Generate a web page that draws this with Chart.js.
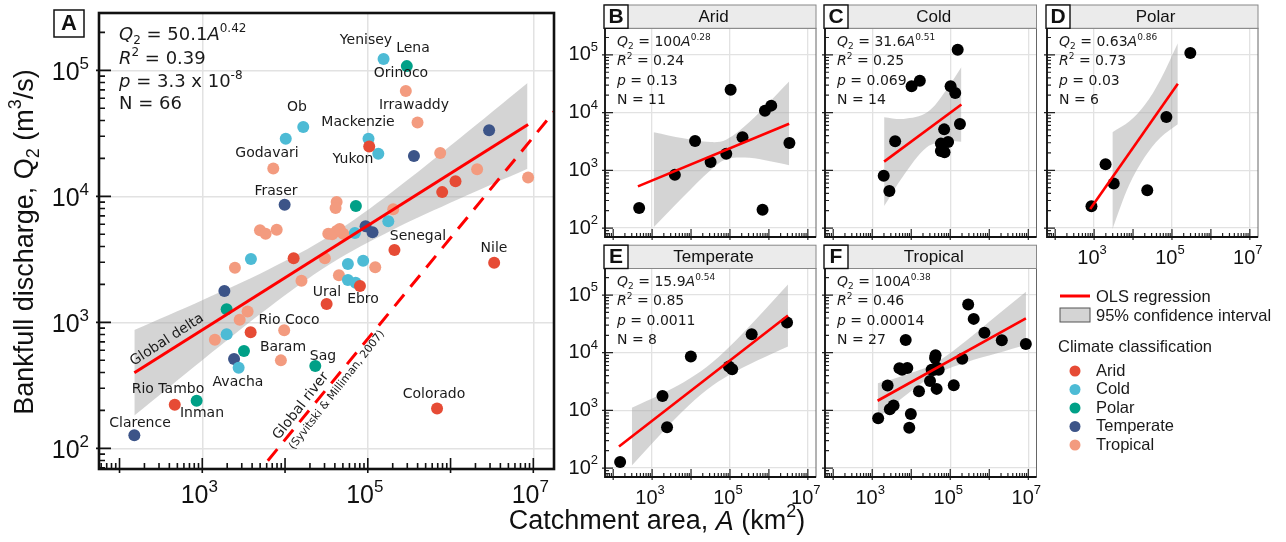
<!DOCTYPE html>
<html>
<head>
<meta charset="utf-8">
<script src="https://cdn.jsdelivr.net/npm/chart.js@4.4.1/dist/chart.umd.min.js"></script>
<style>
  body { margin: 0; background: #fff; }
  #wrap { position: relative; width: 1286px; height: 542px; }
  #wrap canvas { position: absolute; left: 0; top: 0; }
</style>
</head>
<body>
<div id="wrap">
  <canvas id="pA" width="1286" height="542"></canvas>
  <canvas id="pB" width="1286" height="542"></canvas>
  <canvas id="pC" width="1286" height="542"></canvas>
  <canvas id="pD" width="1286" height="542"></canvas>
  <canvas id="pE" width="1286" height="542"></canvas>
  <canvas id="pF" width="1286" height="542"></canvas>
</div>
<script>
// ---------- data ----------
const classNames = ['Arid', 'Cold', 'Polar', 'Temperate', 'Tropical'];
const classColors = ['#E64B35', '#4DBBD5', '#00A087', '#3C5488', '#F39B7F'];

// catchment area A (km2) and bankfull discharge Q2 (m3/s), one pair per river
const aridA = [104000, 1148000, 792000, 12700, 3840, 465, 31800, 210000, 3365000, 80400, 687000];
const aridQ = [24900, 13200, 10800, 3220, 834, 222, 1400, 3750, 2970, 1940, 207];
const coldA = [16600, 10200, 155000, 102000, 134000, 177000, 69800, 3870, 1970, 2750, 57500, 87900, 57500, 71300];
const coldQ = [35500, 28600, 123000, 28600, 21800, 6340, 5120, 3180, 804, 437, 2900, 3080, 2170, 2060];
const polarA = [296000, 71800, 1970, 3190, 23200, 855];
const polarQ = [108000, 8380, 1270, 592, 450, 239];
const temperateA = [9890, 361000, 2924000, 94000, 114000, 1850, 2420, 151];
const temperateQ = [8570, 20900, 33400, 5780, 5180, 1770, 512, 127];
const tropicalA = [7210, 4980, 5830, 7930, 33300, 42000, 50500, 288000, 399000, 750000, 2094000, 8650000,
  42000, 40800, 203000, 2480, 30300, 15800, 3530, 2830, 1420, 9770, 8910, 123000, 44800, 37200, 45700];
const tropicalQ = [16600, 5370, 5050, 5430, 5050, 5310, 5050, 68500, 38600, 22100, 16400, 14100,
  9020, 8070, 7890, 2710, 3220, 2140, 1220, 1050, 728, 865, 499, 2740, 2360, 5010, 5500];

// OLS fit lines and 95% confidence bands
const allFitA = [151, 8650000];
const allFitQ = [398, 37150];
const allBandA = [151, 1000, 6310, 35500, 200000, 1259000, 8510000];
const allBandHi = [871, 1500, 2630, 4910, 10940, 28500, 79250];
const allBandLo = [182, 501, 1306, 2917, 5430, 9530, 16560];
const globalRiverA = [3981, 31620000];
const globalRiverQ = [56, 74300];

const aridFitA = [432, 3311000];
const aridFitQ = [527, 6400];
const aridBandA = [1096, 6310, 31620, 79430, 316200, 1000000, 3311000];
const aridBandHi = [4581, 3597, 3083, 3373, 6887, 14960, 34510];
const aridBandLo = [103, 348, 1007, 1542, 1644, 1449, 1230];

const coldFitA = [2018, 192800];
const coldFitQ = [1416, 13840];
const coldBandA = [2018, 6310, 25120, 79430, 192800];
const coldBandHi = [8337, 7762, 10000, 24600, 61380];
const coldBandLo = [240, 809, 2512, 3228, 3119];

const polarFitA = [794, 141250];
const polarFitQ = [214, 31620];
const polarBandA = [2951, 7943, 19950, 50120, 141250];
const polarBandHi = [4571, 6982, 13490, 36810, 158500];
const polarBandLo = [95.5, 555, 1698, 3681, 6310];

const temperateFitA = [141, 3090000];
const temperateFitQ = [237, 44060];
const temperateBandA = [302, 1585, 6310, 25120, 100000, 501200, 3090000];
const temperateBandHi = [1114, 1875, 3048, 5649, 12940, 39900, 152100];
const temperateBandLo = [111, 376, 982, 2249, 4169, 7295, 12820];

const tropicalFitA = [1374, 8670000];
const tropicalFitQ = [1469, 39540];
const tropicalBandA = [1380, 6310, 39810, 251200, 1585000, 8710000];
const tropicalBandHi = [2958, 4000, 6561, 16000, 44460, 113500];
const tropicalBandLo = [733, 1698, 4140, 6792, 9772, 13770];

// regression statistics per climate class
const statCoef = ['100', '31.6', '0.63', '15.9', '100'];
const statExp = ['0.28', '0.51', '0.86', '0.54', '0.38'];
const statR2 = ['0.24', '0.25', '0.73', '0.85', '0.46'];
const statP = ['0.13', '0.069', '0.03', '0.0011', '0.00014'];
const statN = ['11', '14', '6', '8', '27'];

// axis ticks
const xTickVals = [1e3, 1e5, 1e7];
const yTickVals = [1e2, 1e3, 1e4, 1e5];

// river names shown in panel A (text position on page)
const riverLabels = [
  ['Yenisey', 366, 40], ['Lena', 413, 48], ['Orinoco', 401, 73], ['Irrawaddy', 414, 105],
  ['Ob', 297, 107], ['Mackenzie', 358, 122], ['Godavari', 267, 153], ['Yukon', 353, 159],
  ['Fraser', 276, 191], ['Senegal', 418, 236], ['Nile', 494, 248], ['Ural', 327, 292],
  ['Ebro', 363, 299], ['Rio Coco', 289, 320], ['Baram', 283, 347], ['Sag', 323, 356],
  ['Avacha', 238, 382], ['Rio Tambo', 168, 389], ['Colorado', 434, 394], ['Inman', 202, 413],
  ['Clarence', 140, 423]
];

// ---------- grouping ----------
const classA = [aridA, coldA, polarA, temperateA, tropicalA];
const classQ = [aridQ, coldQ, polarQ, temperateQ, tropicalQ];
const classFitA = [aridFitA, coldFitA, polarFitA, temperateFitA, tropicalFitA];
const classFitQ = [aridFitQ, coldFitQ, polarFitQ, temperateFitQ, tropicalFitQ];
const classBandA = [aridBandA, coldBandA, polarBandA, temperateBandA, tropicalBandA];
const classBandHi = [aridBandHi, coldBandHi, polarBandHi, temperateBandHi, tropicalBandHi];
const classBandLo = [aridBandLo, coldBandLo, polarBandLo, temperateBandLo, tropicalBandLo];

const W = 1286, H = 542;
const BAND_FILL = 'rgba(165,165,165,0.48)';
const SANS = 'Liberation Sans, Arial, sans-serif';
const DEJA = 'DejaVu Sans, Verdana, sans-serif';

function pts(xs, ys) {
  return xs.map((x, i) => ({ x: x, y: ys[i] }));
}

// text with italic / sub / sup pieces
function drawRich(ctx, parts, x, y, size, family, align) {
  const fontFor = (st, fs) => (st.includes('i') ? 'italic ' : '') + fs + 'px ' + family;
  const items = parts.map(([t, st]) => {
    const small = st.includes('sub') || st.includes('sup');
    const fs = small ? Math.round(size * 0.66) : size;
    ctx.font = fontFor(st, fs);
    return { t: t, st: st, fs: fs, w: ctx.measureText(t).width };
  });
  const total = items.reduce((s, it) => s + it.w, 0);
  let cx = align === 'center' ? x - total / 2 : (align === 'right' ? x - total : x);
  ctx.textAlign = 'left';
  ctx.textBaseline = 'middle';
  items.forEach(it => {
    let dy = 0;
    if (it.st.includes('sub')) dy = size * 0.3;
    if (it.st.includes('sup')) dy = -size * 0.36;
    ctx.font = fontFor(it.st, it.fs);
    ctx.fillText(it.t, cx, y + dy);
    cx += it.w;
  });
  return total;
}

function expOf(v) {
  return String(Math.round(Math.log10(v)));
}

// inward log ticks along bottom (horizontal) or left axis
function drawLogTicks(ctx, scale, area, horizontal, majorLen, minorLen, outLen) {
  const lo = Math.floor(Math.log10(scale.min));
  const hi = Math.ceil(Math.log10(scale.max));
  ctx.beginPath();
  for (let d = lo; d <= hi; d++) {
    for (let k = 1; k <= 9; k++) {
      const v = k * Math.pow(10, d);
      if (v < scale.min || v > scale.max) continue;
      const p = scale.getPixelForValue(v);
      const len = k === 1 ? majorLen : minorLen;
      const out = k === 1 ? outLen : 0;
      if (horizontal) {
        ctx.moveTo(p, area.bottom + out);
        ctx.lineTo(p, area.bottom - len);
      } else {
        ctx.moveTo(area.left - out, p);
        ctx.lineTo(area.left + len, p);
      }
    }
  }
  ctx.stroke();
}

function makeChart(id, area, xRange, yRange, datasets, grid, plugin) {
  return new Chart(document.getElementById(id), {
    type: 'scatter',
    data: { datasets: datasets },
    options: {
      responsive: false,
      animation: false,
      devicePixelRatio: 1,
      layout: { padding: { left: area[0], top: area[1], right: W - area[2], bottom: H - area[3] } },
      plugins: { legend: { display: false }, tooltip: { enabled: false } },
      scales: {
        x: {
          type: 'logarithmic', min: xRange[0], max: xRange[1], bounds: 'data',
          ticks: { display: false },
          grid: { color: grid.color, lineWidth: grid.width, drawTicks: false },
          border: { display: false },
          afterBuildTicks: s => { s.ticks = xTickVals.map(v => ({ value: v })); },
          afterFit: s => { s.height = 0; }
        },
        y: {
          type: 'logarithmic', min: yRange[0], max: yRange[1], bounds: 'data',
          ticks: { display: false },
          grid: { color: grid.color, lineWidth: grid.width, drawTicks: false },
          border: { display: false },
          afterBuildTicks: s => { s.ticks = yTickVals.map(v => ({ value: v })); },
          afterFit: s => { s.width = 0; }
        }
      }
    },
    plugins: [plugin]
  });
}

function bandSets(xs, hi, lo) {
  return [
    { data: pts(xs, hi), showLine: true, pointRadius: 0, borderWidth: 0, borderColor: 'rgba(0,0,0,0)',
      tension: 0.35, fill: '+1', backgroundColor: BAND_FILL, order: 3 },
    { data: pts(xs, lo), showLine: true, pointRadius: 0, borderWidth: 0, borderColor: 'rgba(0,0,0,0)',
      tension: 0.35, fill: false, order: 3 }
  ];
}

// ---------- panel A ----------
const areaA = [99, 13, 554, 469];
const xRangeA = [Math.pow(10, 1.752), Math.pow(10, 7.25)];
const yRangeA = [Math.pow(10, 1.836), Math.pow(10, 5.455)];

const datasetsA = bandSets(allBandA, allBandHi, allBandLo);
classNames.forEach((name, i) => {
  datasetsA.push({ label: name, data: pts(classA[i], classQ[i]), pointRadius: 6, pointBorderWidth: 0,
    backgroundColor: classColors[i], order: 2 });
});
datasetsA.push({ data: pts(allFitA, allFitQ), showLine: true, pointRadius: 0, borderColor: '#ff0000',
  borderWidth: 3, order: 1 });
datasetsA.push({ data: pts(globalRiverA, globalRiverQ), showLine: true, pointRadius: 0, borderColor: '#ff0000',
  borderWidth: 3, borderDash: [15, 10], order: 1 });

const plugA = {
  id: 'decoA',
  afterDraw(chart) {
    const ctx = chart.ctx, a = chart.chartArea, xs = chart.scales.x, ys = chart.scales.y;
    ctx.save();
    ctx.strokeStyle = '#111';
    ctx.lineWidth = 1.6;
    drawLogTicks(ctx, xs, a, true, 11, 6, 4);
    drawLogTicks(ctx, ys, a, false, 12, 6, 3);
    ctx.lineWidth = 2.6;
    ctx.strokeRect(a.left, a.top, a.right - a.left, a.bottom - a.top);

    ctx.fillStyle = '#111';
    yTickVals.forEach(v => {
      drawRich(ctx, [['10', ''], [expOf(v), 'sup']], 89, ys.getPixelForValue(v) + 3, 25, SANS, 'right');
    });
    xTickVals.forEach(v => {
      drawRich(ctx, [['10', ''], [expOf(v), 'sup']], xs.getPixelForValue(v) - 3, 496, 25, SANS, 'center');
    });

    // statistics
    ctx.fillStyle = '#1a1a1a';
    const sx = 119;
    drawRich(ctx, [['Q', 'i'], ['2', 'sub'], [' = 50.1', ''], ['A', 'i'], ['0.42', 'sup']], sx, 35, 18, DEJA, 'left');
    drawRich(ctx, [['R', 'i'], ['2', 'sup'], [' = 0.39', '']], sx, 59, 18, DEJA, 'left');
    drawRich(ctx, [['p', 'i'], [' = 3.3 x 10', ''], ['-8', 'sup']], sx, 82, 18, DEJA, 'left');
    drawRich(ctx, [['N = 66', '']], sx, 104, 18, DEJA, 'left');

    // river names
    ctx.font = '14px ' + DEJA;
    ctx.textAlign = 'center';
    ctx.textBaseline = 'middle';
    riverLabels.forEach(([t, x, y]) => ctx.fillText(t, x, y));

    ctx.save();
    ctx.translate(167, 340);
    ctx.rotate(-33 * Math.PI / 180);
    ctx.fillText('Global delta', 0, 0);
    ctx.restore();

    ctx.save();
    ctx.translate(301, 406);
    ctx.rotate(-52 * Math.PI / 180);
    ctx.fillText('Global river', 0, 0);
    ctx.restore();

    ctx.save();
    ctx.translate(337, 390);
    ctx.rotate(-52 * Math.PI / 180);
    ctx.font = '11px ' + DEJA;
    ctx.fillText('(Syvitski & Milliman, 2007)', 0, 0);
    ctx.restore();

    // letter box
    ctx.fillStyle = '#fff';
    ctx.fillRect(54, 10, 30, 27);
    ctx.lineWidth = 1.5;
    ctx.strokeStyle = '#111';
    ctx.strokeRect(54, 10, 30, 27);
    ctx.fillStyle = '#111';
    ctx.font = 'bold 22px ' + SANS;
    ctx.textAlign = 'center';
    ctx.fillText('A', 69, 24);

    // axis titles
    ctx.fillStyle = '#111';
    drawRich(ctx, [['Catchment area, ', ''], ['A', 'i'], [' (km', ''], ['2', 'sup'], [')', '']], 657, 522, 27, SANS, 'center');
    ctx.save();
    ctx.translate(26, 242);
    ctx.rotate(-Math.PI / 2);
    drawRich(ctx, [['Bankfull discharge, Q', ''], ['2', 'sub'], [' (m', ''], ['3', 'sup'], ['/s)', '']], 0, 0, 27, SANS, 'center');
    ctx.restore();
    ctx.restore();
  }
};
makeChart('pA', areaA, xRangeA, yRangeA, datasetsA, { color: '#e2e2e2', width: 1.5 }, plugA);

// ---------- small panels B-F ----------
const xRangeS = [Math.pow(10, 1.79), Math.pow(10, 7.21)];
const yRangeS = [Math.pow(10, 1.845), Math.pow(10, 5.46)];
const smallPanels = [
  { id: 'pB', letter: 'B', area: [605, 28.3, 816, 237], yLabels: true, xLabels: false },
  { id: 'pC', letter: 'C', area: [825, 28.3, 1036.5, 237], yLabels: false, xLabels: false },
  { id: 'pD', letter: 'D', area: [1047, 28.3, 1258, 237], yLabels: false, xLabels: true, legend: true },
  { id: 'pE', letter: 'E', area: [605, 268.5, 816, 477], yLabels: true, xLabels: true },
  { id: 'pF', letter: 'F', area: [825, 268.5, 1036.5, 477], yLabels: false, xLabels: true }
];

function drawLegend(ctx) {
  ctx.strokeStyle = '#ff0000';
  ctx.lineWidth = 3;
  ctx.beginPath();
  ctx.moveTo(1060, 296);
  ctx.lineTo(1090, 296);
  ctx.stroke();
  ctx.fillStyle = BAND_FILL;
  ctx.fillRect(1060, 308, 30, 14);
  ctx.strokeStyle = '#555';
  ctx.lineWidth = 1;
  ctx.strokeRect(1060, 308, 30, 14);
  ctx.fillStyle = '#1a1a1a';
  ctx.font = '16.5px ' + SANS;
  ctx.textAlign = 'left';
  ctx.textBaseline = 'middle';
  ctx.fillText('OLS regression', 1096, 297);
  ctx.fillText('95% confidence interval', 1096, 316);
  ctx.fillText('Climate classification', 1058, 347);
  classNames.forEach((name, i) => {
    const y = 371 + i * 18.5;
    ctx.fillStyle = classColors[i];
    ctx.beginPath();
    ctx.arc(1075, y, 5.5, 0, Math.PI * 2);
    ctx.fill();
    ctx.fillStyle = '#1a1a1a';
    ctx.fillText(name, 1096, y);
  });
}

smallPanels.forEach((panel, ci) => {
  const datasets = bandSets(classBandA[ci], classBandHi[ci], classBandLo[ci]);
  datasets.push({ data: pts(classA[ci], classQ[ci]), pointRadius: 6, pointBorderWidth: 0,
    backgroundColor: '#000', order: 2 });
  datasets.push({ data: pts(classFitA[ci], classFitQ[ci]), showLine: true, pointRadius: 0,
    borderColor: '#ff0000', borderWidth: 2.6, order: 1 });

  const plug = {
    id: 'deco' + panel.letter,
    afterDraw(chart) {
      const ctx = chart.ctx, a = chart.chartArea, xs = chart.scales.x, ys = chart.scales.y;
      ctx.save();
      ctx.strokeStyle = '#222';
      ctx.lineWidth = 1.2;
      drawLogTicks(ctx, xs, a, true, 8, 4, 3);
      drawLogTicks(ctx, ys, a, false, 8, 4, 3);
      ctx.strokeStyle = '#666';
      ctx.lineWidth = 1;
      ctx.strokeRect(a.left, a.top, a.right - a.left, a.bottom - a.top);
      ctx.strokeStyle = '#111';
      ctx.lineWidth = 1.8;
      ctx.beginPath();
      ctx.moveTo(a.left, a.top);
      ctx.lineTo(a.left, a.bottom);
      ctx.lineTo(a.right, a.bottom);
      ctx.stroke();

      // strip with panel letter and class name
      const st = a.top - 23.3;
      ctx.fillStyle = '#ebebeb';
      ctx.fillRect(a.left, st, a.right - a.left, 23.3);
      ctx.strokeStyle = '#888';
      ctx.lineWidth = 1;
      ctx.strokeRect(a.left, st, a.right - a.left, 23.3);
      ctx.fillStyle = '#fff';
      ctx.fillRect(a.left - 1, st, 24, 23.3);
      ctx.strokeStyle = '#111';
      ctx.lineWidth = 1.4;
      ctx.strokeRect(a.left - 1, st, 24, 23.3);
      ctx.fillStyle = '#111';
      ctx.textAlign = 'center';
      ctx.textBaseline = 'middle';
      ctx.font = 'bold 21px ' + SANS;
      ctx.fillText(panel.letter, a.left + 11, st + 12.5);
      ctx.font = '17px ' + SANS;
      ctx.fillText(classNames[ci], (a.left + a.right) / 2 + 3, st + 12);

      // tick labels
      if (panel.yLabels) {
        yTickVals.forEach(v => {
          drawRich(ctx, [['10', ''], [expOf(v), 'sup']], 598, ys.getPixelForValue(v), 20, SANS, 'right');
        });
      }
      if (panel.xLabels) {
        xTickVals.forEach(v => {
          drawRich(ctx, [['10', ''], [expOf(v), 'sup']], xs.getPixelForValue(v) - 2, a.bottom + 21, 20, SANS, 'center');
        });
      }

      // statistics
      ctx.fillStyle = '#1a1a1a';
      const sx = a.left + 12, sy = a.top + 14, lh = 19.3;
      drawRich(ctx, [['Q', 'i'], ['2', 'sub'], [' = ' + statCoef[ci], ''], ['A', 'i'], [statExp[ci], 'sup']], sx, sy, 14, DEJA, 'left');
      drawRich(ctx, [['R', 'i'], ['2', 'sup'], [' = ' + statR2[ci], '']], sx, sy + lh, 14, DEJA, 'left');
      drawRich(ctx, [['p', 'i'], [' = ' + statP[ci], '']], sx, sy + 2 * lh, 14, DEJA, 'left');
      drawRich(ctx, [['N = ' + statN[ci], '']], sx, sy + 3 * lh, 14, DEJA, 'left');

      if (panel.legend) drawLegend(ctx);
      ctx.restore();
    }
  };
  makeChart(panel.id, panel.area, xRangeS, yRangeS, datasets, { color: '#e2e2e2', width: 1.3 }, plug);
});
</script>
</body>
</html>
